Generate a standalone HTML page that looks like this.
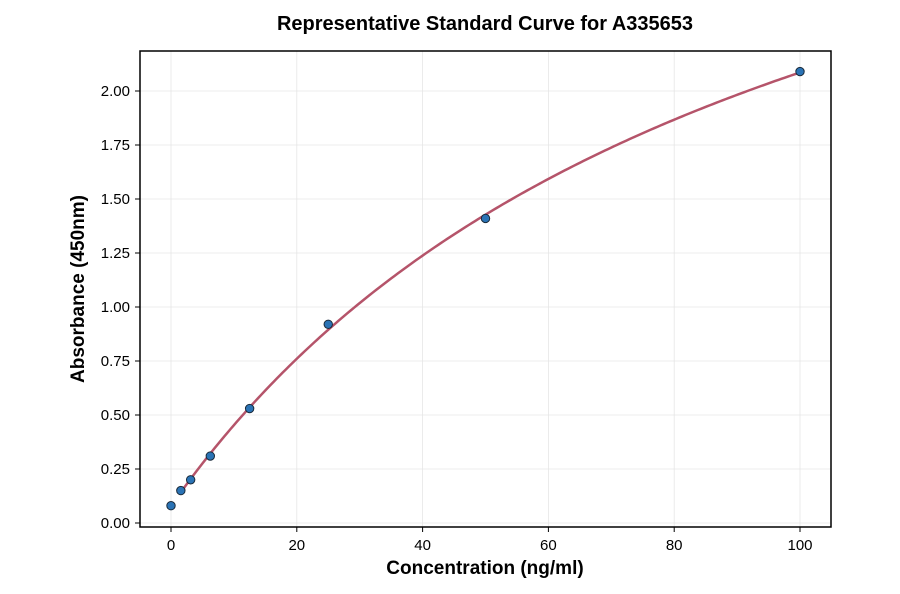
<!DOCTYPE html>
<html><head><meta charset="utf-8"><style>
html,body{margin:0;padding:0;background:#fff;}
svg{display:block;font-family:"Liberation Sans","DejaVu Sans",sans-serif;}
</style></head><body>
<svg id="chart" width="900" height="594" viewBox="0 0 900 594">
<text x="485" y="30" text-anchor="middle" font-size="20" font-weight="bold">Representative Standard Curve for A335653</text>
<g id="grid"></g>
<g id="curve-layer"></g>
<g id="points"></g>
<rect x="140" y="51" width="691" height="476" fill="none" stroke="#000" stroke-width="1.5"/>
<g id="xticks"></g>
<g id="yticks"></g>
<text x="485" y="574" text-anchor="middle" font-size="19" font-weight="bold">Concentration (ng/ml)</text>
<text transform="translate(84,289) rotate(-90)" text-anchor="middle" font-size="19" font-weight="bold">Absorbance (450nm)</text>
</svg>
<script>
const concentrations = [0, 1.5625, 3.125, 6.25, 12.5, 25, 50, 100];
const absorbances = [0.08, 0.15, 0.20, 0.31, 0.53, 0.92, 1.41, 2.09];
const xTicks = [0, 20, 40, 60, 80, 100];
const yTicks = [0, 0.25, 0.5, 0.75, 1.0, 1.25, 1.5, 1.75, 2.0];

const NS = "http://www.w3.org/2000/svg";
function X(v){ return 171 + v * 6.29; }
function Y(v){ return 523 - v * 216; }
function mk(tag, attrs, parent){ const e=document.createElementNS(NS,tag); for(const k in attrs) e.setAttribute(k,attrs[k]); parent.appendChild(e); return e; }
const grid=document.getElementById('grid'), xt=document.getElementById('xticks'), yt=document.getElementById('yticks');
xTicks.forEach(t=>{
  const gl=mk('line',{x1:X(t),x2:X(t),y1:51,y2:527,stroke:'#e6e6e6','stroke-width':0.8},grid);
  
  
  const tk=mk('line',{x1:X(t),x2:X(t),y1:527,y2:532,stroke:'#000','stroke-width':1},xt);
  
  
  const lb=mk('text',{x:X(t),y:550,'text-anchor':'middle','font-size':15},xt);
  lb.textContent=t;
  
  
});
yTicks.forEach(t=>{
  const gl=mk('line',{x1:140,x2:831,y1:Y(t),y2:Y(t),stroke:'#e6e6e6','stroke-width':0.8},grid);
  
  
  const tk=mk('line',{x1:135,x2:140,y1:Y(t),y2:Y(t),stroke:'#000','stroke-width':1},yt);
  
  
  const lb=mk('text',{x:130,y:Y(t)+5,'text-anchor':'end','font-size':15},yt);
  lb.textContent=t.toFixed(2);
  
  
});
// 4PL fit via Nelder-Mead
function f4(p,x){ const b=p[1], c=Math.abs(p[2])+1e-6; return p[3]+(p[0]-p[3])/(1+Math.pow(x/c,b)); }
function sse(p){ let s=0; for(let i=0;i<concentrations.length;i++){ const r=f4(p,concentrations[i])-absorbances[i]; s+=r*r; } return isFinite(s)?s:1e9; }
function nm(start){
  const n=start.length; let S=[start.slice()];
  for(let i=0;i<n;i++){ const q=start.slice(); q[i]=q[i]*1.3+(q[i]===0?0.1:0); S.push(q); }
  for(let it=0;it<4000;it++){
    S.sort((a,b)=>sse(a)-sse(b));
    const c=new Array(n).fill(0);
    for(let i=0;i<n;i++) for(let j=0;j<n;j++) c[j]+=S[i][j]/n;
    const w=S[n], r=c.map((v,j)=>v+(v-w[j]));
    if(sse(r)<sse(S[0])){ const e=c.map((v,j)=>v+2*(v-w[j])); S[n]=sse(e)<sse(r)?e:r; }
    else if(sse(r)<sse(S[n-1])) S[n]=r;
    else { const k=c.map((v,j)=>v+0.5*(w[j]-v)); if(sse(k)<sse(w)) S[n]=k; else for(let i=1;i<=n;i++) S[i]=S[i].map((v,j)=>S[0][j]+0.5*(v-S[0][j])); }
  }
  S.sort((a,b)=>sse(a)-sse(b)); return S[0];
}
const fit=nm([0.07,1.1,80,4]);
let d='';
const x0=concentrations[1], x1=concentrations[concentrations.length-1];
for(let i=0;i<=200;i++){
  const x=x0+(x1-x0)*i/200;
  const y=f4(fit,x);
  d+=(i?'L':'M')+X(x).toFixed(2)+','+Y(y).toFixed(2);
}
const path=mk('path',{d:d,fill:'none',stroke:'#b5546a','stroke-width':2.5},document.getElementById('curve-layer'));


const pg=document.getElementById('points');
concentrations.forEach((c,i)=>{
  const p=mk('circle',{cx:X(c),cy:Y(absorbances[i]),r:4.2,fill:'#2a73b5',stroke:'#1a2a3a','stroke-width':1},pg);
  
  
});
</script>
</body></html>
